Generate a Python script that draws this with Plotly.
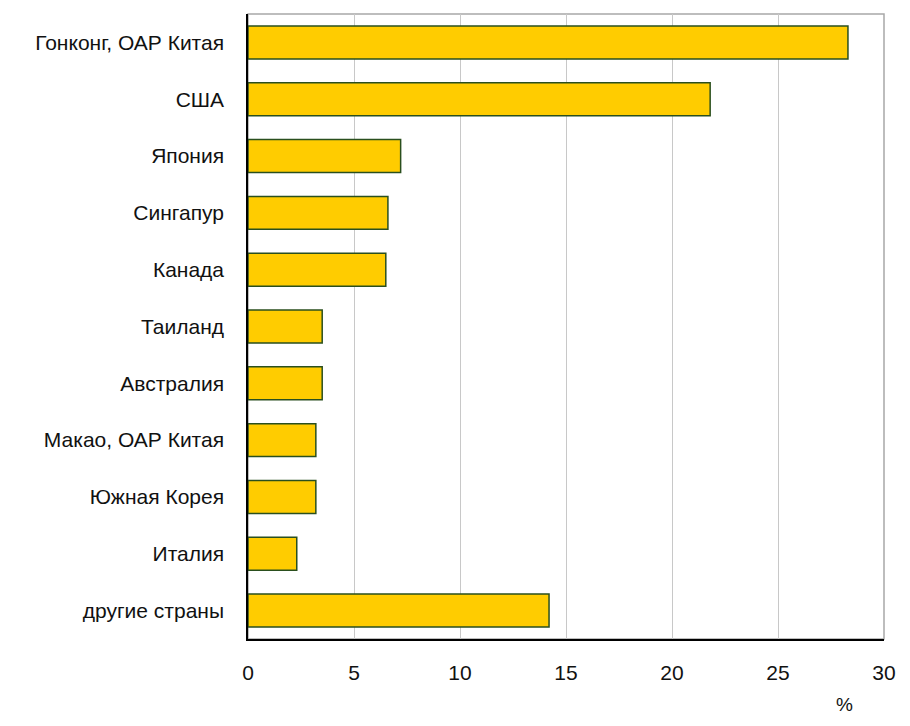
import plotly.graph_objects as go

categories = ["Гонконг, ОАР Китая", "США", "Япония", "Сингапур", "Канада", "Таиланд",
              "Австралия", "Макао, ОАР Китая", "Южная Корея", "Италия", "другие страны"]
values = [28.3, 21.8, 7.2, 6.6, 6.5, 3.5, 3.5, 3.2, 3.2, 2.3, 14.2]
x_ticks = [0, 5, 10, 15, 20, 25, 30]

fig = go.Figure(go.Bar(
    y=categories, x=values, orientation="h",
    marker=dict(color="#FFCC00", line=dict(color="#2A4F1E", width=1.5)),
    width=0.58,
))

# page body has an 8px margin, so the figure is offset by 8px; keep it inside the window
fig.update_layout(
    width=894, height=710,
    margin=dict(l=240, r=13, t=6, b=79),
    paper_bgcolor="white", plot_bgcolor="white",
    font=dict(family="Liberation Sans, Arial, sans-serif", size=21, color="#111111"),
    showlegend=False,
    xaxis=dict(range=[0, 30], tickvals=x_ticks, showgrid=True, gridcolor="#C8C8C8", gridwidth=1,
               showline=True, linecolor="#000000", linewidth=1.5, zeroline=False,
               ticks="", ticklabelstandoff=14),
    yaxis=dict(autorange="reversed", showline=True, linecolor="#000000", linewidth=1.5,
               ticks="", ticklabelstandoff=18, showgrid=False),
    shapes=[dict(type="rect", xref="paper", yref="paper", x0=0, x1=1, y0=0, y1=1,
                 line=dict(color="#A8A8A8", width=1.5), layer="below")],
    annotations=[dict(text="%", xref="paper", yref="paper", x=0.955, y=-0.125,
                      yanchor="bottom", showarrow=False, font=dict(size=19))],
)

fig.write_html("out.html")
